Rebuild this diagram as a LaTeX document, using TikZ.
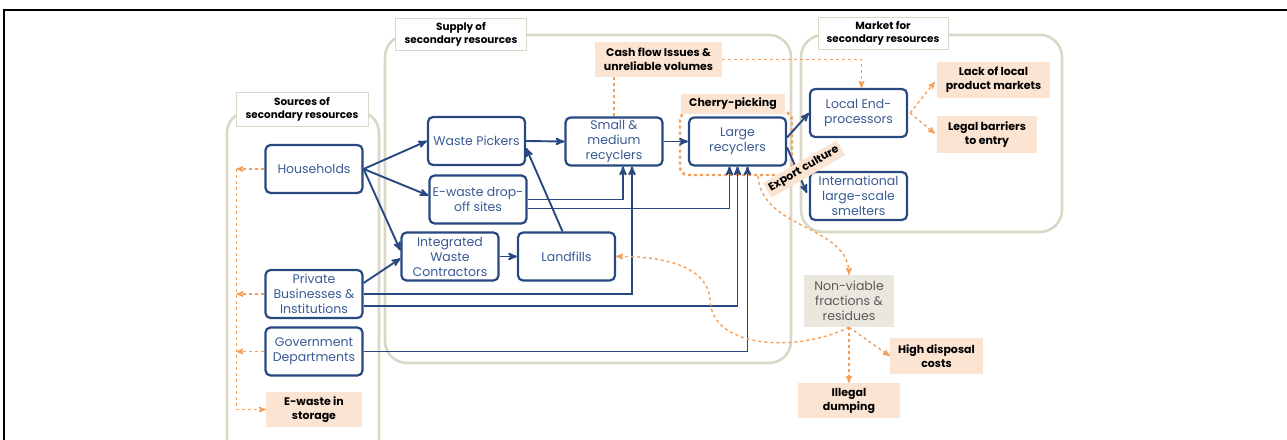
\documentclass[tikz,border=0pt]{standalone}
\usepackage{fontspec}
\setmainfont{Poppins}
\usetikzlibrary{arrows,positioning,calc}
\definecolor{navy}{RGB}{40,72,130}
\definecolor{navytext}{RGB}{58,90,148}
\definecolor{sand}{RGB}{218,215,198}
\definecolor{peach}{RGB}{252,228,211}
\definecolor{risk}{RGB}{244,160,92}
\definecolor{stone}{RGB}{233,231,222}

\begin{document}
\begin{tikzpicture}[x=1pt, y=-1pt, >=stealth', font=\fontsize{12.5}{15}\selectfont]
\tikzstyle{actor}=[draw=navy, line width=2.2pt, rounded corners=5pt, fill=white, text=navytext, align=center, minimum width=97pt, minimum height=48pt, inner sep=1pt]
\tikzstyle{issue}=[fill=peach, text=black, font=\fontsize{11}{14}\selectfont\bfseries, align=center, inner sep=3pt]
\tikzstyle{group}=[draw=sand, line width=2.6pt, rounded corners=22pt]
\tikzstyle{grouptitle}=[draw=sand, line width=0.8pt, fill=white, font=\fontsize{10.4}{13}\selectfont\bfseries, align=center, inner sep=2pt]
\tikzstyle{flow}=[->, draw=navy, line width=1.9pt]
\tikzstyle{leak}=[->, draw=risk, line width=1.4pt, dashed]
\useasboundingbox (0,0) rectangle (1287,439);
\clip (0,0) rectangle (1287,439);
\draw[line width=1.3pt] (4,445) -- (4,10) -- (1290,10);

% the three groups
\draw[group] (227,111) rectangle (379,470);
\draw[group] (385,35) rectangle (791,363);
\draw[group] (801,35) rectangle (1062,232);
\node[grouptitle, minimum width=132pt, minimum height=34pt] (tsrc) at (302,109) {Sources of\\secondary resources};
\node[grouptitle, minimum width=131pt, minimum height=32pt] (tsup) at (461,34) {Supply of\\secondary resources};
\node[grouptitle, minimum width=130pt, minimum height=32pt] (tmkt) at (883,33) {Market for\\secondary resources};

% sources
\node[actor] (hh)  at (314,169)   {Households};
\node[actor] (pbi) at (314,294)   {Private\\Businesses \&\\Institutions};
\node[actor] (gov) at (314,351.5) {Government\\Departments};
\node[issue, minimum width=96pt, minimum height=35pt] (store) at (314,409.5) {E-waste in\\storage};

% supply
\node[actor] (wp)   at (476.5,141) {Waste Pickers};
\node[actor] (drop) at (478,199.5) {E-waste drop-\\off sites};
\node[actor] (iwc)  at (450,256.5) {Integrated\\Waste\\Contractors};
\node[actor] (lf)   at (566.5,256.5) {Landfills};
\node[actor] (smr)  at (614,141.5) {Small \&\\medium\\recyclers};
\node[draw=risk, dashed, line width=2.4pt, rounded corners=8pt, minimum width=112pt, minimum height=63pt] (cpk) at (736,143.5) {};
\node[actor] (lr)   at (737.5,141.5) {Large\\recyclers};
\node[issue, minimum width=104pt, minimum height=20pt, inner sep=1pt] (cherry) at (733,104) {Cherry-picking};
\node[issue, minimum width=127pt, minimum height=35pt] (cash) at (658.5,59.5) {Cash flow Issues \&\\unreliable volumes};

% market
\node[actor] (lep) at (858.5,113) {Local End-\\processors};
\node[actor] (ils) at (858.5,196) {International\\large-scale\\smelters};
\node[issue, minimum width=113pt, minimum height=36pt] (lack)  at (993.5,80)  {Lack of local\\product markets};
\node[issue, minimum width=100pt, minimum height=37pt] (legal) at (987,134.5) {Legal barriers\\to entry};

% leftovers
\node[fill=stone, text=black!65, align=center, minimum width=90pt, minimum height=52pt, inner sep=1pt] (nvf) at (849,301) {Non-viable\\fractions \&\\residues};
\node[issue, minimum width=93pt, minimum height=36pt]  (cost) at (936.5,356) {High disposal\\costs};
\node[issue, minimum width=102pt, minimum height=35pt] (dump) at (849,400.5) {Illegal\\dumping};

% material flows
\path (hh.east) edge[flow] (wp.west)
                edge[flow] ([shift={(0,-4)}]drop.west)
                edge[flow] ([shift={(0,-6)}]iwc.west);
\draw[flow] ([shift={(0,-11)}]pbi.east) -- ([shift={(0,2)}]iwc.west);
\draw[flow] (pbi.east) -| ([shift={(18,0)}]smr.south);
\draw[flow] ([shift={(0,12)}]pbi.east) -| (lr.south);
\draw[flow] (gov.east) -| ([shift={(10,0)}]lr.south);
\draw[flow] (drop.east) -| ([shift={(9,0)}]smr.south);
\draw[flow] ([shift={(0,9)}]drop.east) -| ([shift={(-8,0)}]lr.south);
\draw[flow] (wp.east) -- (smr.west);
\draw[flow] ([shift={(-4,0)}]lf.north) -- ([shift={(0,7)}]wp.east);
\draw[flow] (iwc.east) -- (lf.west);
\draw[flow] (smr.east) -- (lr.west);
\draw[flow] ([shift={(0,-4)}]lr.east) -- (lep.west);
\draw[flow] ([shift={(0,6)}]lr.east) -- ([shift={(-2,-3)}]ils.west);

% barriers
\draw[leak] (hh.west) -- ++(-28,0) coordinate (c1);
\draw[leak] (pbi.west) -- ++(-28,0);
\draw[leak] (gov.west) -- ++(-28,0);
\draw[leak] (c1) |- (store.west);
\draw[leak] (cash.east) -| ([shift={(3,0)}]lep.north);
\draw[risk, dashed, line width=1.4pt] (smr.north) -- (smr.north |- cash.south);
\draw[leak] ([shift={(2,0)}]lep.east) -- ([shift={(-2,2)}]lack.west);
\draw[leak] ([shift={(2,0)}]lep.east) -- ([shift={(-2,-1)}]legal.west);
\draw[leak] ([shift={(22,0)}]cpk.south) .. controls (762,230) and (848,225) .. (nvf.north);
\draw[leak] (nvf.south) .. controls (800,352) and (712,350) .. (710,300)
                       .. controls (708,265) and (660,256) .. (lf.east);
\draw[leak] (nvf.south) -- (cost.west);
\draw[leak] (nvf.south) -- (dump.north);

\node[issue, rotate=30, inner sep=3pt] (export) at (804,169) {Export culture};
\end{tikzpicture}
\end{document}
